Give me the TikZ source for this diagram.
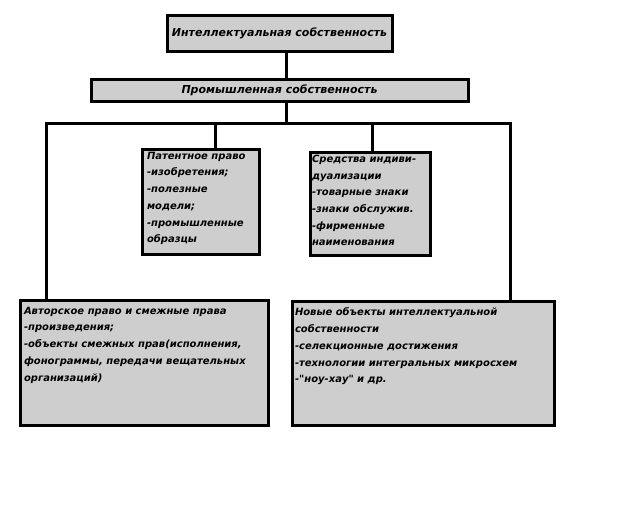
\documentclass[tikz,border=0pt]{standalone}
\usepackage{fontspec}
\setmainfont{DejaVu Sans}
\newfontfamily\pryamoj{DejaVu Sans}
\usetikzlibrary{positioning}
\definecolor{seryj}{RGB}{206,206,206}
\tikzset{
  blok/.style={draw=black, fill=seryj, line width=3pt, inner sep=0pt, anchor=north west,
    font=\fontsize{10}{16.7}\selectfont\bfseries\itshape},
  zagolovok/.style={blok, font=\fontsize{11}{13}\selectfont\bfseries\itshape},
  svyaz/.style={line width=3pt}
}
\newcommand{\soderzh}[3]{\parbox[t][#2][t]{#1}{\raggedright\baselineskip=16.7pt #3}}

\begin{document}
\begin{tikzpicture}[x=1pt,y=-1pt]
\useasboundingbox (0,0) rectangle (640,512);
% Verhnie bloki
\node[zagolovok, minimum width=225pt, minimum height=36pt] (intel) at (165.5,13.5) {Интеллектуальная собственность};
\node[zagolovok, minimum width=377pt, minimum height=22pt] (prom) at (89.5,77.5) {Промышленная собственность};

% Srednie bloki
\node[blok, inner xsep=5pt, inner ysep=3pt] (patent) at (140.5,147.5)
  {\soderzh{107pt}{99pt}{Патентное право\\-изобретения;\\-полезные\\модели;\\-промышленные\\образцы}};
\node[blok, inner xsep=2pt, inner ysep=3pt] (sredstva) at (308.5,150.5)
  {\soderzh{116pt}{97pt}{Средства индиви-\\дуализации\\-товарные знаки\\-знаки обслужив.\\-фирменные\\наименования}};

% Nizhnie bloki
\node[blok, inner xsep=4pt, inner ysep=7pt] (avtor) at (18.5,298.5)
  {\soderzh{240pt}{111pt}{Авторское право и смежные права\\-произведения;\\-объекты смежных прав(исполнения,\\фонограммы, передачи вещательных\\организаций)}};
\node[blok, inner xsep=3pt, inner ysep=7pt] (novye) at (290.5,299.5)
  {\soderzh{256pt}{110pt}{Новые объекты интеллектуальной\\собственности\\-селекционные достижения\\-технологии интегральных микросхем\\-{\pryamoj"}ноу-хау{\pryamoj"} и др.}};

% Svyazi
\coordinate (uzel) at (286,123);
\coordinate (shinaL) at (46,123);
\coordinate (shinaR) at (510,123);
\coordinate (otvP) at (215,123);
\coordinate (otvS) at (372,123);
\draw[svyaz] (intel.south -| uzel) -- (prom.north -| uzel);
\draw[svyaz] (prom.south -| uzel) -- (uzel);
\draw[svyaz] (avtor.north -| shinaL) -- (shinaL) -- (shinaR) -- (novye.north -| shinaR);
\draw[svyaz] (otvP) -- (patent.north -| otvP);
\draw[svyaz] (otvS) -- (sredstva.north -| otvS);
\end{tikzpicture}
\end{document}
